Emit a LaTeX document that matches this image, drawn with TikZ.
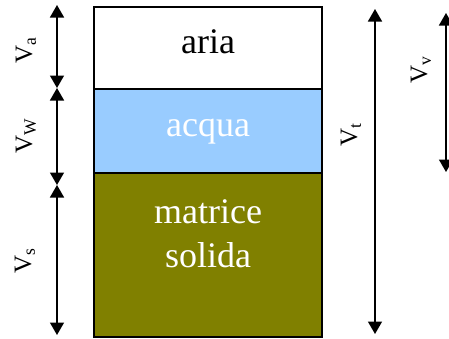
\documentclass[tikz,border=0pt]{standalone}
\usepackage{fontspec}
\setmainfont{Liberation Serif}
\usetikzlibrary{arrows.meta}
\definecolor{acquablue}{HTML}{99CCFF}
\definecolor{olive}{HTML}{808000}
\begin{document}
\begin{tikzpicture}[x=1pt,y=-1pt,
  layer/.style={draw=black,line width=1.8pt,inner sep=0pt,outer sep=0pt},
  dim/.style={line width=1.5pt,{Triangle[length=12.5pt,width=14pt]}-{Triangle[length=12.5pt,width=14pt]}},
  lbl/.style={rotate=90,font=\fontsize{25}{27}\selectfont,inner sep=0pt},
  big/.style={font=\fontsize{36}{40}\selectfont,anchor=base,inner sep=0pt}]
\useasboundingbox (0,0) rectangle (449,338);
\clip (0,0) rectangle (449,338);
% layers
\draw[layer,fill=white] (94,7) rectangle (322,89);
\draw[layer,fill=acquablue] (94,89) rectangle (322,173);
\draw[layer,fill=olive] (94,173) rectangle (322,337);
\node[big,text=black] (aria) at (208,53) {aria};
\node[big,text=white] (acqua) at (208,136) {acqua};
\node[big,text=white] (matrice) at (208,223) {matrice};
\node[big,text=white] (solida) at (208,267) {solida};
% left dimension arrows
\coordinate (a0) at (57,5);
\coordinate (a1) at (57,88);
\coordinate (a2) at (57,185);
\coordinate (a3) at (57,335);
\draw[dim] (a0) -- (a1);
\draw[dim] (a1) -- (a2);
\draw[dim] (a2) -- (a3);
\node[lbl] (va) at (26,50) {V\textsubscript{a}};
\node[lbl] (vw) at (26,136) {V\textsubscript{W}};
\node[lbl] (vs) at (25,261) {V\textsubscript{s}};
% right dimension arrows
\coordinate (t0) at (375,9);
\coordinate (t1) at (375,334);
\draw[dim] (t0) -- (t1);
\node[lbl] (vt) at (351,135) {V\textsubscript{t}};
\coordinate (v0) at (446,13);
\coordinate (v1) at (446,172);
\draw[dim] (v0) -- (v1);
\node[lbl] (vv) at (421,70) {V\textsubscript{v}};
\end{tikzpicture}
\end{document}
